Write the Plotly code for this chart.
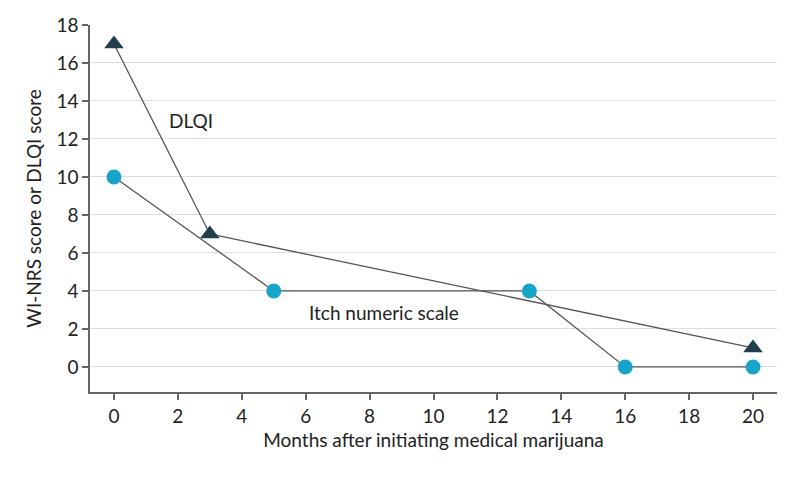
import plotly.graph_objects as go

months_dlqi = [0, 3, 20]
dlqi = [17, 7, 1]
months_itch = [0, 5, 13, 16, 20]
itch = [10, 4, 4, 0, 0]
x_ticks = [0, 2, 4, 6, 8, 10, 12, 14, 16, 18, 20]
y_ticks = [0, 2, 4, 6, 8, 10, 12, 14, 16, 18]

FONT = "Lato"
fig = go.Figure()
fig.add_trace(go.Scatter(x=months_dlqi, y=dlqi, mode="lines+markers",
                         line=dict(color="#555555", width=1.3),
                         marker=dict(symbol="triangle-up", size=17, color="#213f4b"),
                         name="DLQI", showlegend=False))
fig.add_trace(go.Scatter(x=months_itch, y=itch, mode="lines+markers",
                         line=dict(color="#555555", width=1.3),
                         marker=dict(symbol="circle", size=15, color="#18a3c9"),
                         name="Itch numeric scale", showlegend=False))

fig.add_annotation(x=2.41, y=12.95, text="DLQI", showarrow=False,
                   font=dict(family=FONT, size=19, color="#222222"))
fig.add_annotation(x=8.44, y=2.89, text="Itch numeric scale", showarrow=False,
                   font=dict(family=FONT, size=19, color="#222222"))

fig.update_layout(
    width=794, height=483,
    margin=dict(l=82, r=25, t=17, b=99),
    plot_bgcolor="white", paper_bgcolor="white",
    font=dict(family=FONT, size=19, color="#222222"),
)
fig.update_xaxes(range=[-0.75, 20.75], tickvals=x_ticks, showgrid=False, automargin=False,
                 zeroline=False, showline=True, linecolor="#666666", linewidth=1.5,
                 ticks="outside", ticklen=6, tickcolor="#666666", tickwidth=1.5,
                 title=dict(text="Months after initiating medical marijuana",
                            font=dict(size=19), standoff=8))
fig.update_yaxes(range=[-1.32, 18], tickvals=y_ticks, showgrid=True, automargin=False,
                 gridcolor="#dddddd", gridwidth=1.2,
                 zeroline=False, showline=True, linecolor="#666666", linewidth=1.5,
                 ticks="outside", ticklen=6, tickcolor="#666666", tickwidth=1.5,
                 title=dict(text="WI-NRS score or DLQI score", font=dict(size=19), standoff=10))

fig.write_html("out.html")
